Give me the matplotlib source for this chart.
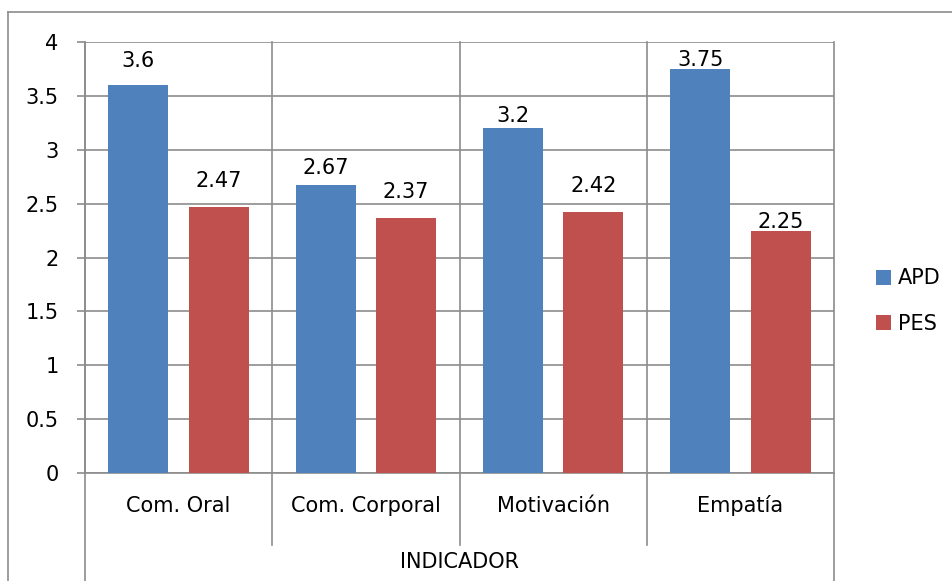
import matplotlib
matplotlib.use("Agg")
import matplotlib.pyplot as plt
from matplotlib.lines import Line2D
from matplotlib.patches import Patch
import numpy as np

categories = ["Com. Oral", "Com. Corporal", "Motivación", "Empatía"]
apd = [3.6, 2.67, 3.2, 3.75]
pes = [2.47, 2.37, 2.42, 2.25]
apd_labels = ["3.6", "2.67", "3.2", "3.75"]
pes_labels = ["2.47", "2.37", "2.42", "2.25"]
yticks = [0, 0.5, 1, 1.5, 2, 2.5, 3, 3.5, 4]
ytick_labels = ["0", "0.5", "1", "1.5", "2", "2.5", "3", "3.5", "4"]
axis_title = "INDICADOR"
series_names = ["APD", "PES"]

blue = "#4F81BD"
red = "#C0504D"
grid = "#8C8C8C"
FS = 15

# label gaps above bar tops (points), as placed in the original chart
apd_gap = [13, 8, 4.5, 2]
pes_gap = [14, 14, 14.5, 2]

plt.rcParams['font.family'] = ['DejaVu Sans']
fig = plt.figure(figsize=(9.52, 5.81), dpi=100)
fig.patch.set_facecolor("white")
ax = fig.add_axes([85/952, 1-473/581, (834-85)/952, (473-42)/581])

x = np.arange(len(categories))
w = 0.32
off = 0.215
b1 = ax.bar(x - off, apd, w, color=blue, zorder=3)
b2 = ax.bar(x + off, pes, w, color=red, zorder=3)
for rect, lab, g in zip(b1, apd_labels, apd_gap):
    ax.annotate(lab, (rect.get_x() + rect.get_width()/2, rect.get_height()),
                xytext=(0, g), textcoords="offset points", ha="center", va="baseline", fontsize=FS)
for rect, lab, g in zip(b2, pes_labels, pes_gap):
    ax.annotate(lab, (rect.get_x() + rect.get_width()/2, rect.get_height()),
                xytext=(0, g), textcoords="offset points", ha="center", va="baseline", fontsize=FS)

ax.set_xlim(-0.5, len(categories) - 0.5)
ax.set_ylim(0, 4)
ax.set_yticks(yticks)
ax.set_yticklabels(ytick_labels, fontsize=FS)
ax.tick_params(axis="y", length=6, color=grid, pad=13, width=1.2)
ax.set_xticks([])
ax.yaxis.grid(True, color=grid, linewidth=1.2, zorder=0)
for s in ["top", "right"]:
    ax.spines[s].set_visible(False)
for s in ["left", "bottom"]:
    ax.spines[s].set_color(grid)
    ax.spines[s].set_linewidth(1.2)

# vertical category separators (two-level category axis)
inner_bottom = (473 - 545) / 431
outer_bottom = (473 - 585) / 431
bounds = np.arange(len(categories) + 1) - 0.5
trans = ax.get_xaxis_transform()
for i, b in enumerate(bounds):
    ybot = outer_bottom if i in (0, len(bounds) - 1) else inner_bottom
    ax.plot([b, b], [ybot, 1], transform=trans, color=grid, lw=1.2, clip_on=False, zorder=1)
for i, c in enumerate(categories):
    ax.text(i, (473 - 506) / 431, c, transform=trans, ha="center", va="center", fontsize=FS)
ax.text(np.mean(x), (473 - 562) / 431, axis_title, transform=trans, ha="center", va="center", fontsize=FS)

# legend
handles = [Patch(facecolor=blue), Patch(facecolor=red)]
leg = fig.legend(handles, series_names, loc="center left", bbox_to_anchor=(876/952, 1-301/581),
                 frameon=False, fontsize=FS, handlelength=0.72, handleheight=0.72,
                 handletextpad=0.35, labelspacing=1.2, borderpad=0, borderaxespad=0)

# outer chart border
fig.add_artist(Line2D([8/952, 8/952], [0, 1-12/581], transform=fig.transFigure, color=grid, lw=1.2))
fig.add_artist(Line2D([8/952, 1], [1-12/581, 1-12/581], transform=fig.transFigure, color=grid, lw=1.2))

fig.savefig("out.png", dpi=100)
